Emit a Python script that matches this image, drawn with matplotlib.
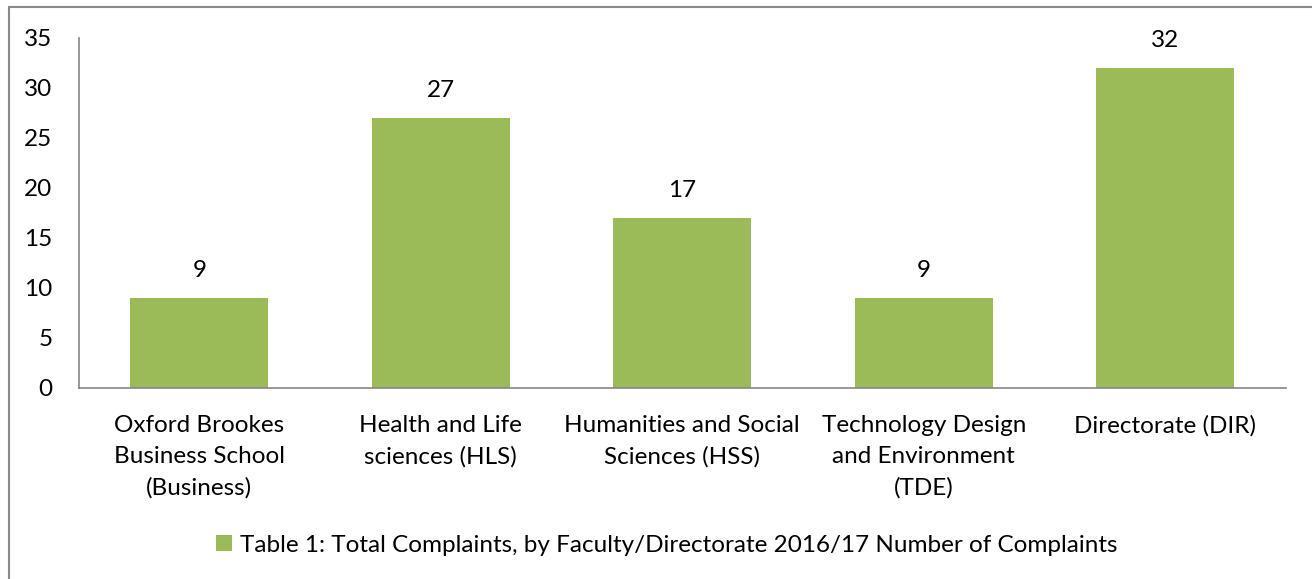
import matplotlib
matplotlib.use("Agg")
import matplotlib.pyplot as plt
from matplotlib.patches import Rectangle

categories = ["Oxford Brookes\nBusiness School\n(Business)",
              "Health and Life\nsciences (HLS)",
              "Humanities and Social\nSciences (HSS)",
              "Technology Design\nand Environment\n(TDE)",
              "Directorate (DIR)"]
values = [9, 27, 17, 9, 32]
yticks = [0, 5, 10, 15, 20, 25, 30, 35]
series_name = "Table 1: Total Complaints, by Faculty/Directorate 2016/17 Number of Complaints"

plt.rcParams['font.family'] = ['Lato', 'DejaVu Sans']
W, H = 1312, 579
FS = 17.5
fig = plt.figure(figsize=(W/100, H/100), dpi=100)
ax = fig.add_axes([78.5/W, 1-388/H, (1286-78.5)/W, (388-38)/H])

bar_color = "#9BBB59"
x = list(range(len(values)))
bars = ax.bar(x, values, width=0.57, color=bar_color, label=series_name)
for xi, v in zip(x, values):
    ax.annotate(str(v), (xi, v), xytext=(0, 12), textcoords="offset points",
                ha="center", va="bottom", fontsize=FS, color="black")

ax.set_xlim(-0.5, len(values)-0.5)
ax.set_ylim(0, 35)
ax.set_yticks(yticks)
ax.set_yticklabels([str(t) for t in yticks], fontsize=FS)
ax.set_xticks(x)
ax.set_xticklabels(categories, fontsize=FS, linespacing=1.58)
ax.tick_params(axis='both', length=0)
ax.tick_params(axis='y', pad=18.7)
ax.tick_params(axis='x', pad=19.5)
for s in ["top", "right"]:
    ax.spines[s].set_visible(False)
for s in ["left", "bottom"]:
    ax.spines[s].set_color("#868686")
    ax.spines[s].set_linewidth(1.2)

handles, labels = ax.get_legend_handles_labels()
fig.legend(handles, labels, loc="center", bbox_to_anchor=(667/W, 1-545/H),
           frameon=False, fontsize=FS, handlelength=0.65, handleheight=0.65,
           handletextpad=0.35)

fig.add_artist(Rectangle((9/W, -0.5), 2, 1-7/H+0.5, transform=fig.transFigure,
                         fill=False, edgecolor="#898989", linewidth=1.5))

fig.savefig("out.png", dpi=100)
